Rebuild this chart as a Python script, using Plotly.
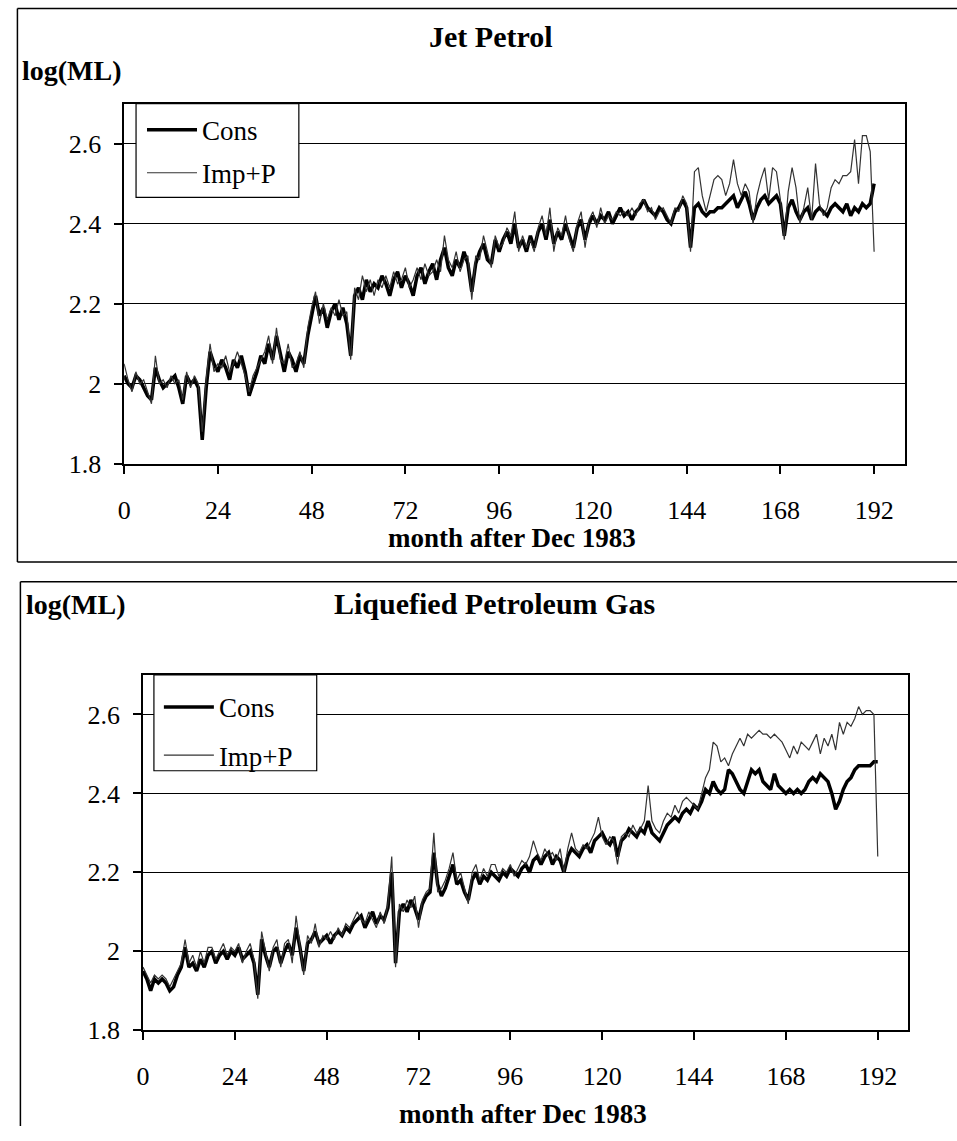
import plotly.graph_objects as go

W, H = 957, 1141

months = list(range(0, 193))
x_tickvals = [0, 24, 48, 72, 96, 120, 144, 168, 192]
y_tickvals = [1.8, 2.0, 2.2, 2.4, 2.6]
y_ticktext = ["1.8", "2", "2.2", "2.4", "2.6"]

jet_cons = [
    2.02, 2.00, 1.99, 2.02, 2.01, 1.99, 1.97, 1.96, 2.04, 2.01, 1.99, 2.00,
    2.01, 2.02, 1.99, 1.95, 2.02, 2.00, 2.01, 1.99, 1.86, 1.99, 2.08, 2.05,
    2.03, 2.06, 2.04, 2.01, 2.06, 2.04, 2.07, 2.03, 1.97, 2.00, 2.03, 2.07,
    2.05, 2.10, 2.06, 2.12, 2.07, 2.03, 2.08, 2.06, 2.03, 2.07, 2.05, 2.12,
    2.17, 2.22, 2.17, 2.19, 2.14, 2.18, 2.20, 2.16, 2.19, 2.15, 2.07, 2.22,
    2.24, 2.21, 2.26, 2.23, 2.25, 2.24, 2.27, 2.25, 2.22, 2.26, 2.28, 2.24,
    2.27, 2.25, 2.22, 2.27, 2.29, 2.25, 2.28, 2.30, 2.26, 2.31, 2.34, 2.29,
    2.27, 2.31, 2.29, 2.33, 2.30, 2.23, 2.30, 2.33, 2.35, 2.31, 2.30, 2.36,
    2.33, 2.36, 2.38, 2.35, 2.40, 2.34, 2.36, 2.33, 2.37, 2.34, 2.38, 2.40,
    2.36, 2.41, 2.35, 2.38, 2.36, 2.40, 2.37, 2.34, 2.39, 2.41, 2.36, 2.40,
    2.42, 2.40, 2.42, 2.41, 2.43, 2.40, 2.42, 2.44, 2.42, 2.43, 2.41, 2.43,
    2.44, 2.46, 2.44, 2.43, 2.42, 2.44, 2.43, 2.41, 2.40, 2.43, 2.44, 2.46,
    2.44, 2.34, 2.44, 2.45, 2.43, 2.42, 2.43, 2.43, 2.44, 2.44, 2.45, 2.46,
    2.47, 2.44, 2.46, 2.48, 2.45, 2.41, 2.44, 2.46, 2.47, 2.45, 2.46, 2.47,
    2.45, 2.37, 2.44, 2.46, 2.43, 2.41, 2.43, 2.44, 2.41, 2.43, 2.44, 2.43,
    2.42, 2.44, 2.45, 2.44, 2.43, 2.45, 2.42, 2.44, 2.43, 2.45, 2.44, 2.45,
    2.50,
]

jet_imp = [
    2.05, 2.01, 1.98, 2.03, 2.00, 2.01, 1.98, 1.95, 2.07, 2.00, 2.01, 1.99,
    2.02, 2.00, 2.01, 1.96, 2.03, 1.99, 2.02, 2.00, 1.88, 2.01, 2.10, 2.03,
    2.05, 2.04, 2.07, 2.03, 2.05, 2.08, 2.05, 2.02, 1.98, 2.02, 2.04, 2.06,
    2.08, 2.12, 2.05, 2.14, 2.06, 2.05, 2.10, 2.04, 2.05, 2.08, 2.04, 2.14,
    2.19, 2.23, 2.15, 2.20, 2.16, 2.19, 2.17, 2.21, 2.17, 2.18, 2.06, 2.24,
    2.21, 2.27, 2.23, 2.26, 2.22, 2.26, 2.24, 2.27, 2.24, 2.28, 2.25, 2.26,
    2.29, 2.24, 2.26, 2.29, 2.26, 2.30, 2.27, 2.28, 2.31, 2.28, 2.37, 2.31,
    2.29, 2.33, 2.28, 2.31, 2.32, 2.21, 2.32, 2.31, 2.37, 2.33, 2.29, 2.37,
    2.34, 2.35, 2.39, 2.37, 2.43, 2.33, 2.37, 2.34, 2.36, 2.33, 2.39, 2.42,
    2.37, 2.44, 2.33, 2.39, 2.37, 2.42, 2.36, 2.33, 2.40, 2.43, 2.34, 2.41,
    2.43, 2.39, 2.44, 2.40, 2.42, 2.41, 2.43, 2.42, 2.43, 2.42, 2.44, 2.42,
    2.45, 2.46, 2.43, 2.44, 2.41, 2.43, 2.44, 2.42, 2.40, 2.44, 2.43, 2.47,
    2.45, 2.33, 2.53, 2.54, 2.47, 2.43, 2.47, 2.51, 2.52, 2.51, 2.47, 2.50,
    2.56, 2.50, 2.47, 2.50, 2.48, 2.40, 2.47, 2.51, 2.54, 2.46, 2.54, 2.53,
    2.46, 2.36, 2.48, 2.54, 2.49, 2.40, 2.44, 2.49, 2.41, 2.55, 2.45, 2.42,
    2.44, 2.49, 2.51, 2.50, 2.52, 2.52, 2.53, 2.61, 2.50, 2.62, 2.62, 2.58,
    2.33,
]

lpg_cons = [
    1.95, 1.93, 1.90, 1.93, 1.92, 1.93, 1.92, 1.90, 1.91, 1.94, 1.96, 2.01,
    1.96, 1.97, 1.95, 1.98, 1.96, 1.99, 2.00, 1.97, 1.99, 2.00, 1.98, 2.00,
    1.99, 2.01, 1.98, 1.99, 2.00, 1.97, 1.89, 2.03, 1.99, 1.96, 2.00, 2.01,
    1.97, 2.00, 2.02, 1.99, 2.06, 2.01, 1.95, 2.02, 2.03, 2.05, 2.02, 2.03,
    2.04, 2.02, 2.04, 2.05, 2.04, 2.06, 2.05, 2.07, 2.08, 2.09, 2.06, 2.08,
    2.10, 2.07, 2.09, 2.08, 2.11, 2.20, 1.97, 2.10, 2.12, 2.10, 2.13, 2.11,
    2.08, 2.12, 2.14, 2.15, 2.25, 2.17, 2.14, 2.16, 2.19, 2.22, 2.17, 2.18,
    2.15, 2.13, 2.18, 2.20, 2.17, 2.19, 2.18, 2.20, 2.19, 2.18, 2.20, 2.19,
    2.21, 2.20, 2.19, 2.21, 2.22, 2.20, 2.23, 2.24, 2.22, 2.24, 2.25, 2.22,
    2.24, 2.23, 2.20, 2.24, 2.26, 2.25, 2.24, 2.26, 2.27, 2.25, 2.28, 2.29,
    2.30, 2.28, 2.27, 2.29, 2.24, 2.28, 2.29, 2.31, 2.30, 2.29, 2.31, 2.30,
    2.33, 2.30, 2.29, 2.28, 2.30, 2.32, 2.33, 2.34, 2.33, 2.35, 2.36, 2.35,
    2.37, 2.36, 2.38, 2.41, 2.40, 2.43, 2.41, 2.40, 2.41, 2.46, 2.45, 2.43,
    2.41, 2.40, 2.43, 2.46, 2.45, 2.46, 2.43, 2.42, 2.41, 2.45, 2.42, 2.41,
    2.40, 2.41, 2.40, 2.41, 2.40, 2.41, 2.43, 2.44, 2.43, 2.45, 2.44, 2.43,
    2.40, 2.36, 2.38, 2.41, 2.43, 2.44, 2.46, 2.47, 2.47, 2.47, 2.47, 2.48,
    2.48,
]

lpg_imp = [
    1.96, 1.94, 1.92, 1.94, 1.93, 1.94, 1.93, 1.91, 1.93, 1.95, 1.97, 2.03,
    1.97, 1.99, 1.96, 2.00, 1.97, 2.01, 2.01, 1.98, 2.00, 2.02, 1.99, 2.01,
    2.00, 2.02, 1.97, 2.00, 2.02, 1.98, 1.88, 2.05, 2.00, 1.95, 2.01, 2.03,
    1.96, 2.02, 2.03, 1.97, 2.09, 2.02, 1.94, 2.04, 2.02, 2.07, 2.01, 2.04,
    2.03, 2.05, 2.03, 2.06, 2.04, 2.07, 2.06, 2.08, 2.10, 2.08, 2.07, 2.10,
    2.08, 2.06, 2.10, 2.07, 2.12, 2.24, 1.96, 2.12, 2.10, 2.13, 2.11, 2.14,
    2.06, 2.13, 2.15, 2.16, 2.30, 2.15, 2.16, 2.18, 2.21, 2.25, 2.18, 2.20,
    2.16, 2.12, 2.20, 2.22, 2.18, 2.21, 2.19, 2.22, 2.22, 2.19, 2.21, 2.20,
    2.22, 2.19, 2.21, 2.23, 2.22, 2.24, 2.28, 2.25, 2.23, 2.26, 2.24, 2.25,
    2.23, 2.26, 2.20, 2.26, 2.30, 2.26, 2.25, 2.27, 2.26, 2.28, 2.30, 2.34,
    2.29, 2.27, 2.29, 2.28, 2.22, 2.29, 2.30, 2.29, 2.32, 2.30, 2.31, 2.33,
    2.42, 2.33, 2.31, 2.30, 2.33, 2.35, 2.34, 2.37, 2.35, 2.38, 2.39, 2.38,
    2.37, 2.36, 2.40, 2.44, 2.46, 2.53, 2.52, 2.48, 2.49, 2.47, 2.50, 2.52,
    2.54, 2.52, 2.55, 2.54, 2.55, 2.56, 2.55, 2.55, 2.54, 2.55, 2.54, 2.53,
    2.51, 2.49, 2.52, 2.50, 2.53, 2.52, 2.51, 2.53, 2.55, 2.50, 2.54, 2.52,
    2.55, 2.51, 2.58, 2.55, 2.58, 2.57, 2.59, 2.62, 2.60, 2.61, 2.61, 2.60,
    2.24,
]

SERIF = "Liberation Serif, Times New Roman, serif"


def fx(p):
    return p / W


def fy(p):
    return 1 - p / H


fig = go.Figure()

fig.add_trace(go.Scatter(x=months, y=jet_cons, name="Cons", mode="lines",
                         line=dict(color="black", width=3.5),
                         xaxis="x", yaxis="y", legend="legend", legendgroup="a"))
fig.add_trace(go.Scatter(x=months, y=jet_imp, name="Imp+P", mode="lines",
                         line=dict(color="#333333", width=1.2),
                         xaxis="x", yaxis="y", legend="legend", legendgroup="b"))
fig.add_trace(go.Scatter(x=months, y=lpg_cons, name="Cons", mode="lines",
                         line=dict(color="black", width=3.5),
                         xaxis="x2", yaxis="y2", legend="legend2", legendgroup="c"))
fig.add_trace(go.Scatter(x=months, y=lpg_imp, name="Imp+P", mode="lines",
                         line=dict(color="#333333", width=1.2),
                         xaxis="x2", yaxis="y2", legend="legend2", legendgroup="d"))

tickfont = dict(family=SERIF, size=26, color="black")

xcommon = dict(range=[0, 200], tickmode="array", tickvals=x_tickvals,
               ticks="outside", ticklen=8, tickcolor="black", tickwidth=1.5,
               showline=True, linecolor="black", linewidth=1.5, mirror=True,
               showgrid=False, zeroline=False, tickfont=tickfont,
               ticklabelstandoff=14, fixedrange=True)
ycommon = dict(range=[1.8, 2.7], tickmode="array", tickvals=y_tickvals,
               ticktext=y_ticktext,
               ticks="outside", ticklen=8, tickcolor="black", tickwidth=1.5,
               showline=True, linecolor="black", linewidth=1.5, mirror=True,
               showgrid=True, gridcolor="black", gridwidth=1,
               zeroline=False, tickfont=tickfont, ticklabelstandoff=8,
               fixedrange=True)

legfont = dict(family=SERIF, size=27, color="black")

fig.update_layout(
    width=W, height=H, autosize=False,
    margin=dict(l=0, r=0, t=0, b=0),
    paper_bgcolor="white", plot_bgcolor="white",
    xaxis=dict(domain=[fx(118), fx(905)], anchor="y", **xcommon),
    yaxis=dict(domain=[fy(470), fy(105)], anchor="x", **ycommon),
    xaxis2=dict(domain=[fx(137), fx(908)], anchor="y2", **xcommon),
    yaxis2=dict(domain=[fy(1044), fy(684)], anchor="x2", **ycommon),
    legend=dict(x=fx(136), y=fy(107), xanchor="left", yanchor="top",
                bgcolor="rgba(0,0,0,0)", borderwidth=0, font=legfont,
                tracegroupgap=5, itemwidth=50),
    legend2=dict(x=fx(153), y=fy(692), xanchor="left", yanchor="top",
                 bgcolor="rgba(0,0,0,0)", borderwidth=0, font=legfont,
                 tracegroupgap=10, itemwidth=50),
    showlegend=True,
)

frame = dict(color="black", width=1.5)
shapes = [
    # top panel frame: top, left, bottom (runs off the right edge)
    dict(type="line", x0=fx(10.5), x1=1, y0=fy(8.5), y1=fy(8.5), line=frame),
    dict(type="line", x0=fx(10.5), x1=fx(10.5), y0=fy(8.5), y1=fy(569.5), line=frame),
    dict(type="line", x0=fx(10.5), x1=1, y0=fy(569.5), y1=fy(569.5), line=frame),
    # bottom panel frame: top, left (runs off the bottom edge)
    dict(type="line", x0=fx(13.5), x1=1, y0=fy(589.5), y1=fy(589.5), line=frame),
    dict(type="line", x0=fx(13.5), x1=fx(13.5), y0=fy(589.5), y1=0, line=frame),
    # legend boxes
    dict(type="rect", x0=fx(130), x1=fx(294), y0=fy(105), y1=fy(200),
         line=dict(color="black", width=1.2), fillcolor="white", layer="above"),
    dict(type="rect", x0=fx(148), x1=fx(312), y0=fy(684), y1=fy(781),
         line=dict(color="black", width=1.2), fillcolor="white", layer="above"),
]
for s in shapes:
    s.update(xref="paper", yref="paper")

titlefont = dict(family=SERIF, size=30, color="black")
labfont = dict(family=SERIF, size=28, color="black")
xtitlefont = dict(family=SERIF, size=27, color="black")

annotations = [
    dict(text="<b>Jet Petrol</b>", x=fx(488), y=fy(37), xanchor="center", yanchor="middle",
         font=titlefont),
    dict(text="<b>log(ML)</b>", x=fx(13), y=fy(71), xanchor="left", yanchor="middle",
         font=labfont),
    dict(text="<b>month after Dec 1983</b>", x=fx(509), y=fy(545), xanchor="center",
         yanchor="middle", font=xtitlefont),
    dict(text="<b>Liquefied Petroleum Gas</b>", x=fx(491), y=fy(612), xanchor="center",
         yanchor="middle", font=titlefont),
    dict(text="<b>log(ML)</b>", x=fx(17), y=fy(613), xanchor="left", yanchor="middle",
         font=labfont),
    dict(text="<b>month after Dec 1983</b>", x=fx(520), y=fy(1129), xanchor="center",
         yanchor="middle", font=xtitlefont),
]
for a in annotations:
    a.update(xref="paper", yref="paper", showarrow=False)

fig.update_layout(shapes=shapes, annotations=annotations)

fig.write_html("out.html")
